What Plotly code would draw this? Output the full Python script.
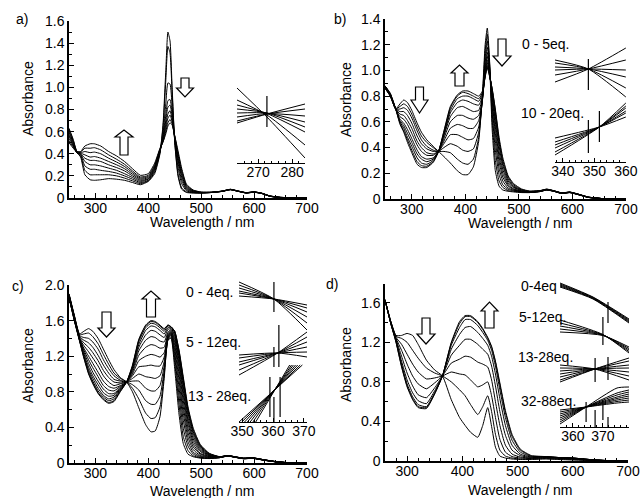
import plotly.graph_objects as go

W, H = 642, 498
FONT = "Liberation Sans, Arial, Helvetica, sans-serif"

# ---------------- DATA ----------------
# Panel a: absorbance rows, one row per wavelength, columns = successive titration spectra
wl_a = [250, 258, 265, 272, 280, 290, 298, 310, 325, 340, 355, 370, 385, 400, 412, 422, 428, 433, 437, 441,
        445, 450, 456, 463, 472, 485, 500, 520, 540, 555, 570, 585, 600, 615, 630, 650, 700]
abs_a = [
    [0.50, 0.52, 0.54, 0.56, 0.57, 0.59, 0.60, 0.62, 0.63],
    [0.45, 0.46, 0.47, 0.48, 0.49, 0.50, 0.51, 0.52, 0.53],
    [0.41, 0.41, 0.41, 0.41, 0.41, 0.41, 0.42, 0.42, 0.42],
    [0.37, 0.38, 0.39, 0.395, 0.40, 0.405, 0.41, 0.415, 0.42],
    [0.21, 0.25, 0.29, 0.33, 0.36, 0.39, 0.42, 0.45, 0.47],
    [0.165, 0.21, 0.26, 0.30, 0.34, 0.37, 0.41, 0.45, 0.49],
    [0.16, 0.21, 0.26, 0.30, 0.34, 0.375, 0.415, 0.455, 0.49],
    [0.165, 0.21, 0.25, 0.29, 0.33, 0.36, 0.40, 0.435, 0.47],
    [0.175, 0.21, 0.24, 0.27, 0.30, 0.33, 0.36, 0.39, 0.42],
    [0.17, 0.20, 0.225, 0.25, 0.275, 0.30, 0.325, 0.35, 0.38],
    [0.16, 0.18, 0.20, 0.22, 0.245, 0.265, 0.285, 0.305, 0.33],
    [0.14, 0.155, 0.17, 0.185, 0.20, 0.215, 0.23, 0.245, 0.265],
    [0.12, 0.13, 0.14, 0.15, 0.16, 0.17, 0.18, 0.19, 0.205],
    [0.15, 0.155, 0.16, 0.17, 0.175, 0.185, 0.195, 0.205, 0.22],
    [0.22, 0.235, 0.25, 0.26, 0.27, 0.28, 0.29, 0.30, 0.315],
    [0.40, 0.41, 0.42, 0.42, 0.43, 0.43, 0.44, 0.44, 0.45],
    [0.68, 0.65, 0.59, 0.56, 0.54, 0.53, 0.52, 0.51, 0.51],
    [1.15, 1.06, 0.85, 0.75, 0.70, 0.66, 0.63, 0.60, 0.58],
    [1.50, 1.37, 1.04, 0.88, 0.82, 0.76, 0.72, 0.68, 0.65],
    [1.42, 1.31, 1.03, 0.89, 0.84, 0.79, 0.75, 0.71, 0.68],
    [1.00, 0.95, 0.83, 0.77, 0.74, 0.71, 0.69, 0.67, 0.66],
    [0.50, 0.50, 0.52, 0.53, 0.54, 0.55, 0.55, 0.56, 0.56],
    [0.20, 0.22, 0.28, 0.32, 0.35, 0.37, 0.39, 0.41, 0.43],
    [0.08, 0.09, 0.13, 0.16, 0.19, 0.21, 0.23, 0.25, 0.27],
    [0.05, 0.055, 0.065, 0.075, 0.085, 0.095, 0.105, 0.115, 0.125],
    [0.045, 0.047, 0.05, 0.053, 0.056, 0.06, 0.064, 0.068, 0.072],
    [0.045, 0.045, 0.046, 0.047, 0.048, 0.05, 0.051, 0.052, 0.054],
    [0.05, 0.05, 0.05, 0.05, 0.051, 0.051, 0.052, 0.052, 0.053],
    [0.06, 0.06, 0.06, 0.061, 0.061, 0.062, 0.062, 0.063, 0.063],
    [0.075, 0.075, 0.076, 0.076, 0.077, 0.077, 0.078, 0.078, 0.079],
    [0.06, 0.06, 0.06, 0.061, 0.061, 0.062, 0.062, 0.063, 0.063],
    [0.045, 0.045, 0.046, 0.046, 0.047, 0.047, 0.048, 0.048, 0.049],
    [0.052, 0.052, 0.053, 0.053, 0.054, 0.054, 0.055, 0.055, 0.056],
    [0.04, 0.04, 0.04, 0.041, 0.041, 0.042, 0.042, 0.043, 0.043],
    [0.015, 0.015, 0.016, 0.016, 0.017, 0.017, 0.018, 0.018, 0.019],
    [0.004, 0.004, 0.004, 0.005, 0.005, 0.005, 0.006, 0.006, 0.006],
    [0, 0, 0, 0, 0, 0, 0, 0, 0],
]

wl_b = [250, 260, 270, 278, 285, 292, 300, 310, 318, 328, 340, 350, 360, 372, 385, 395, 405, 415, 425, 432,
        437, 441, 445, 450, 456, 463, 470, 480, 490, 505, 520, 540, 552, 565, 580, 595, 610, 630, 660, 700]
abs_b = [
    [0.86, 0.86, 0.87, 0.87, 0.87, 0.87, 0.88, 0.88, 0.88, 0.88, 0.88],
    [0.80, 0.80, 0.80, 0.80, 0.81, 0.81, 0.81, 0.81, 0.81, 0.82, 0.82],
    [0.70, 0.70, 0.70, 0.70, 0.70, 0.70, 0.70, 0.70, 0.70, 0.70, 0.70],
    [0.74, 0.72, 0.70, 0.68, 0.66, 0.64, 0.62, 0.61, 0.60, 0.59, 0.58],
    [0.77, 0.74, 0.71, 0.68, 0.65, 0.62, 0.59, 0.57, 0.55, 0.53, 0.52],
    [0.75, 0.72, 0.69, 0.65, 0.61, 0.58, 0.54, 0.51, 0.48, 0.46, 0.44],
    [0.69, 0.66, 0.63, 0.59, 0.55, 0.51, 0.47, 0.44, 0.41, 0.38, 0.36],
    [0.59, 0.56, 0.53, 0.49, 0.45, 0.42, 0.38, 0.35, 0.32, 0.29, 0.27],
    [0.52, 0.49, 0.46, 0.43, 0.40, 0.37, 0.33, 0.31, 0.28, 0.26, 0.245],
    [0.46, 0.44, 0.41, 0.39, 0.36, 0.34, 0.31, 0.29, 0.27, 0.255, 0.245],
    [0.41, 0.40, 0.38, 0.37, 0.35, 0.34, 0.32, 0.31, 0.30, 0.29, 0.285],
    [0.37, 0.37, 0.37, 0.37, 0.37, 0.37, 0.37, 0.37, 0.37, 0.37, 0.37],
    [0.33, 0.37, 0.40, 0.43, 0.45, 0.47, 0.49, 0.50, 0.51, 0.52, 0.53],
    [0.28, 0.36, 0.43, 0.50, 0.55, 0.60, 0.64, 0.67, 0.69, 0.71, 0.72],
    [0.22, 0.31, 0.41, 0.50, 0.58, 0.65, 0.71, 0.75, 0.78, 0.80, 0.81],
    [0.19, 0.28, 0.38, 0.48, 0.57, 0.65, 0.72, 0.77, 0.80, 0.83, 0.84],
    [0.19, 0.27, 0.37, 0.46, 0.55, 0.63, 0.70, 0.76, 0.80, 0.82, 0.84],
    [0.25, 0.31, 0.39, 0.47, 0.55, 0.62, 0.68, 0.74, 0.78, 0.80, 0.82],
    [0.45, 0.48, 0.52, 0.56, 0.61, 0.65, 0.69, 0.73, 0.76, 0.78, 0.80],
    [0.82, 0.80, 0.78, 0.77, 0.77, 0.78, 0.79, 0.80, 0.82, 0.83, 0.84],
    [1.20, 1.15, 1.10, 1.06, 1.02, 1.00, 0.98, 0.97, 0.96, 0.95, 0.95],
    [1.33, 1.28, 1.23, 1.18, 1.14, 1.11, 1.08, 1.06, 1.04, 1.03, 1.02],
    [1.10, 1.08, 1.06, 1.04, 1.02, 1.00, 0.99, 0.98, 0.97, 0.96, 0.96],
    [0.55, 0.62, 0.68, 0.73, 0.77, 0.80, 0.82, 0.84, 0.85, 0.86, 0.86],
    [0.22, 0.30, 0.38, 0.45, 0.51, 0.56, 0.60, 0.64, 0.67, 0.69, 0.70],
    [0.10, 0.14, 0.19, 0.24, 0.29, 0.33, 0.37, 0.41, 0.44, 0.46, 0.48],
    [0.07, 0.09, 0.11, 0.14, 0.17, 0.20, 0.23, 0.26, 0.28, 0.30, 0.32],
    [0.06, 0.065, 0.075, 0.085, 0.10, 0.11, 0.125, 0.14, 0.155, 0.17, 0.18],
    [0.055, 0.06, 0.065, 0.07, 0.075, 0.08, 0.09, 0.095, 0.10, 0.11, 0.12],
    [0.05, 0.052, 0.054, 0.056, 0.058, 0.06, 0.063, 0.066, 0.07, 0.074, 0.078],
    [0.05, 0.05, 0.051, 0.052, 0.053, 0.054, 0.055, 0.056, 0.058, 0.06, 0.062],
    [0.058, 0.058, 0.059, 0.06, 0.06, 0.061, 0.062, 0.063, 0.064, 0.065, 0.066],
    [0.07, 0.07, 0.071, 0.072, 0.072, 0.073, 0.074, 0.074, 0.075, 0.076, 0.077],
    [0.06, 0.06, 0.061, 0.061, 0.062, 0.062, 0.063, 0.063, 0.064, 0.064, 0.065],
    [0.043, 0.043, 0.044, 0.044, 0.045, 0.045, 0.046, 0.046, 0.047, 0.047, 0.048],
    [0.05, 0.05, 0.05, 0.051, 0.051, 0.052, 0.052, 0.053, 0.053, 0.054, 0.054],
    [0.035, 0.035, 0.035, 0.036, 0.036, 0.037, 0.037, 0.038, 0.038, 0.039, 0.039],
    [0.012, 0.012, 0.012, 0.013, 0.013, 0.013, 0.014, 0.014, 0.014, 0.015, 0.015],
    [0.002, 0.002, 0.002, 0.002, 0.002, 0.002, 0.002, 0.002, 0.002, 0.002, 0.002],
    [0, 0, 0, 0, 0, 0, 0, 0, 0, 0, 0],
]

wl_c = [250, 260, 270, 278, 287, 295, 305, 315, 325, 335, 347, 359, 370, 382, 395, 405, 413, 422, 430, 437,
        443, 450, 458, 466, 475, 485, 498, 515, 535, 550, 565, 580, 598, 620, 645, 670, 700]
abs_c = [
    [1.90, 1.90, 1.89, 1.89, 1.89, 1.88, 1.88, 1.88, 1.87, 1.87, 1.87, 1.86, 1.86, 1.86],
    [1.66, 1.66, 1.65, 1.65, 1.64, 1.64, 1.63, 1.63, 1.62, 1.62, 1.61, 1.61, 1.60, 1.60],
    [1.45, 1.44, 1.43, 1.42, 1.41, 1.40, 1.40, 1.39, 1.39, 1.38, 1.38, 1.38, 1.37, 1.37],
    [1.48, 1.45, 1.41, 1.38, 1.35, 1.32, 1.29, 1.27, 1.25, 1.23, 1.21, 1.20, 1.19, 1.18],
    [1.51, 1.46, 1.40, 1.35, 1.30, 1.25, 1.20, 1.16, 1.12, 1.08, 1.05, 1.03, 1.01, 1.00],
    [1.48, 1.42, 1.36, 1.30, 1.24, 1.18, 1.12, 1.07, 1.02, 0.98, 0.95, 0.92, 0.90, 0.89],
    [1.40, 1.34, 1.28, 1.21, 1.15, 1.09, 1.02, 0.97, 0.92, 0.88, 0.84, 0.81, 0.79, 0.78],
    [1.28, 1.22, 1.16, 1.10, 1.04, 0.98, 0.92, 0.87, 0.83, 0.79, 0.76, 0.74, 0.72, 0.71],
    [1.16, 1.11, 1.06, 1.01, 0.96, 0.91, 0.86, 0.82, 0.78, 0.75, 0.72, 0.70, 0.68, 0.67],
    [1.05, 1.01, 0.98, 0.94, 0.91, 0.87, 0.84, 0.81, 0.78, 0.76, 0.74, 0.72, 0.70, 0.69],
    [0.96, 0.95, 0.93, 0.92, 0.90, 0.89, 0.87, 0.86, 0.85, 0.84, 0.83, 0.82, 0.81, 0.80],
    [0.91, 0.91, 0.91, 0.91, 0.91, 0.91, 0.91, 0.91, 0.91, 0.91, 0.91, 0.91, 0.91, 0.91],
    [0.80, 0.84, 0.88, 0.92, 0.95, 0.98, 1.00, 1.02, 1.04, 1.06, 1.07, 1.08, 1.09, 1.10],
    [0.62, 0.72, 0.82, 0.92, 1.00, 1.08, 1.15, 1.21, 1.26, 1.30, 1.33, 1.36, 1.38, 1.39],
    [0.43, 0.56, 0.70, 0.84, 0.97, 1.09, 1.20, 1.30, 1.38, 1.44, 1.49, 1.52, 1.54, 1.55],
    [0.35, 0.50, 0.66, 0.81, 0.96, 1.10, 1.22, 1.33, 1.42, 1.49, 1.54, 1.57, 1.59, 1.60],
    [0.36, 0.51, 0.66, 0.81, 0.95, 1.09, 1.21, 1.32, 1.41, 1.48, 1.53, 1.56, 1.58, 1.59],
    [0.52, 0.63, 0.75, 0.87, 0.98, 1.09, 1.19, 1.29, 1.37, 1.44, 1.49, 1.52, 1.54, 1.55],
    [0.95, 0.99, 1.04, 1.09, 1.14, 1.19, 1.24, 1.30, 1.36, 1.41, 1.45, 1.48, 1.50, 1.51],
    [1.38, 1.38, 1.39, 1.40, 1.41, 1.42, 1.43, 1.45, 1.47, 1.50, 1.52, 1.54, 1.55, 1.55],
    [1.40, 1.42, 1.44, 1.45, 1.46, 1.47, 1.48, 1.49, 1.50, 1.51, 1.52, 1.53, 1.53, 1.53],
    [1.05, 1.12, 1.18, 1.23, 1.28, 1.32, 1.36, 1.39, 1.42, 1.44, 1.46, 1.47, 1.48, 1.48],
    [0.55, 0.66, 0.76, 0.85, 0.93, 1.00, 1.06, 1.11, 1.15, 1.19, 1.22, 1.24, 1.26, 1.27],
    [0.22, 0.30, 0.39, 0.48, 0.56, 0.63, 0.70, 0.76, 0.81, 0.86, 0.90, 0.93, 0.95, 0.97],
    [0.10, 0.14, 0.19, 0.24, 0.29, 0.34, 0.39, 0.44, 0.48, 0.52, 0.56, 0.59, 0.61, 0.63],
    [0.07, 0.08, 0.10, 0.12, 0.15, 0.18, 0.21, 0.24, 0.27, 0.30, 0.33, 0.35, 0.37, 0.39],
    [0.055, 0.06, 0.065, 0.075, 0.085, 0.10, 0.11, 0.13, 0.145, 0.16, 0.175, 0.19, 0.20, 0.21],
    [0.05, 0.05, 0.055, 0.06, 0.065, 0.07, 0.075, 0.08, 0.085, 0.09, 0.095, 0.10, 0.105, 0.11],
    [0.06, 0.06, 0.061, 0.062, 0.063, 0.064, 0.065, 0.066, 0.067, 0.068, 0.069, 0.07, 0.07, 0.071],
    [0.078, 0.078, 0.079, 0.079, 0.08, 0.08, 0.081, 0.081, 0.082, 0.082, 0.083, 0.083, 0.084, 0.084],
    [0.063, 0.063, 0.064, 0.064, 0.065, 0.065, 0.066, 0.066, 0.067, 0.067, 0.068, 0.068, 0.069, 0.069],
    [0.048, 0.048, 0.049, 0.049, 0.05, 0.05, 0.051, 0.051, 0.052, 0.052, 0.053, 0.053, 0.054, 0.054],
    [0.052, 0.052, 0.053, 0.053, 0.054, 0.054, 0.055, 0.055, 0.056, 0.056, 0.057, 0.057, 0.058, 0.058],
    [0.03, 0.03, 0.03, 0.031, 0.031, 0.032, 0.032, 0.033, 0.033, 0.034, 0.034, 0.035, 0.035, 0.035],
    [0.01, 0.01, 0.01, 0.01, 0.011, 0.011, 0.011, 0.011, 0.012, 0.012, 0.012, 0.012, 0.013, 0.013],
    [0.002, 0.002, 0.002, 0.002, 0.002, 0.002, 0.002, 0.002, 0.002, 0.002, 0.002, 0.002, 0.002, 0.002],
    [0, 0, 0, 0, 0, 0, 0, 0, 0, 0, 0, 0, 0, 0],
]

wl_d = [260, 270, 280, 290, 300, 310, 320, 335, 350, 364, 380, 395, 405, 415, 428, 437, 446, 453, 460, 468,
        478, 490, 505, 525, 550, 575, 600, 630, 660, 700]
abs_d = [
    [1.63, 1.63, 1.63, 1.63, 1.63, 1.63, 1.63, 1.63, 1.63],
    [1.42, 1.42, 1.42, 1.41, 1.41, 1.40, 1.40, 1.40, 1.40],
    [1.27, 1.26, 1.25, 1.24, 1.23, 1.22, 1.21, 1.20, 1.20],
    [1.27, 1.24, 1.18, 1.12, 1.06, 1.01, 0.98, 0.96, 0.95],
    [1.29, 1.20, 1.08, 0.98, 0.89, 0.82, 0.78, 0.76, 0.75],
    [1.27, 1.12, 0.98, 0.86, 0.76, 0.69, 0.65, 0.63, 0.62],
    [1.18, 1.04, 0.90, 0.78, 0.67, 0.61, 0.57, 0.55, 0.54],
    [1.02, 0.94, 0.83, 0.73, 0.64, 0.58, 0.55, 0.54, 0.53],
    [0.92, 0.89, 0.84, 0.79, 0.74, 0.71, 0.69, 0.68, 0.68],
    [0.86, 0.86, 0.86, 0.86, 0.86, 0.86, 0.86, 0.86, 0.86],
    [0.62, 0.80, 0.90, 0.99, 1.07, 1.13, 1.17, 1.19, 1.20],
    [0.44, 0.72, 0.88, 1.03, 1.17, 1.28, 1.35, 1.39, 1.41],
    [0.36, 0.66, 0.87, 1.06, 1.23, 1.35, 1.43, 1.46, 1.47],
    [0.29, 0.57, 0.82, 1.05, 1.23, 1.36, 1.43, 1.46, 1.47],
    [0.24, 0.47, 0.75, 1.00, 1.18, 1.30, 1.37, 1.40, 1.41],
    [0.36, 0.55, 0.77, 0.98, 1.13, 1.24, 1.30, 1.33, 1.34],
    [0.54, 0.66, 0.80, 0.95, 1.08, 1.17, 1.22, 1.24, 1.25],
    [0.35, 0.50, 0.66, 0.82, 0.96, 1.06, 1.12, 1.15, 1.16],
    [0.14, 0.27, 0.44, 0.60, 0.76, 0.88, 0.96, 1.00, 1.01],
    [0.05, 0.11, 0.22, 0.36, 0.50, 0.63, 0.72, 0.77, 0.79],
    [0.03, 0.05, 0.09, 0.16, 0.26, 0.36, 0.44, 0.49, 0.51],
    [0.02, 0.03, 0.045, 0.07, 0.11, 0.16, 0.21, 0.25, 0.27],
    [0.015, 0.02, 0.03, 0.04, 0.055, 0.07, 0.09, 0.11, 0.12],
    [0.015, 0.02, 0.025, 0.03, 0.035, 0.04, 0.045, 0.05, 0.055],
    [0.02, 0.025, 0.03, 0.035, 0.04, 0.04, 0.045, 0.045, 0.045],
    [0.015, 0.02, 0.025, 0.03, 0.03, 0.035, 0.035, 0.035, 0.035],
    [0.01, 0.015, 0.02, 0.025, 0.025, 0.03, 0.03, 0.03, 0.03],
    [0.005, 0.008, 0.01, 0.012, 0.015, 0.015, 0.015, 0.015, 0.015],
    [0.0, 0.002, 0.003, 0.004, 0.005, 0.005, 0.005, 0.005, 0.005],
    [0, 0, 0, 0, 0, 0, 0, 0, 0],
]

# Insets (magnified, vertically offset absorbance units)
inset_a_x = [263.8, 272.6, 283.8]
inset_a_lines = [
    [0.75, 0.46, 0.05], [0.63, 0.48, 0.18], [0.58, 0.495, 0.31], [0.54, 0.50, 0.36],
    [0.50, 0.50, 0.41], [0.46, 0.495, 0.47], [0.42, 0.49, 0.54], [0.40, 0.49, 0.59],
]
inset_a_marks = [(272.6, 0.67, 0.36)]

inset_b_x1 = [337.5, 348.1, 360.0]
inset_b_lines1 = [
    [1.02, 0.93, 0.65], [0.99, 0.93, 0.74], [0.95, 0.93, 0.85],
    [0.92, 0.93, 0.92], [0.87, 0.93, 1.02], [0.80, 0.93, 1.14],
]
inset_b_x2 = [337.5, 351.6, 360.0]
inset_b_lines2 = [
    [0.24, 0.35, 0.45], [0.20, 0.35, 0.49], [0.17, 0.35, 0.51],
    [0.14, 0.35, 0.54], [0.10, 0.35, 0.56], [0.07, 0.35, 0.59],
]
inset_b_marks = [(348.1, 1.03, 0.72), (348.1, 0.42, 0.09), (351.6, 0.51, 0.20)]

inset_c_x1 = [349.0, 360.3, 371.0]
inset_c_lines1 = [
    [1.40, 1.23, 0.92], [1.37, 1.23, 0.99], [1.34, 1.23, 1.05],
    [1.31, 1.23, 1.10], [1.29, 1.23, 1.14], [1.26, 1.23, 1.17],
]
inset_c_x2 = [349.0, 361.5, 371.0]
inset_c_lines2 = [
    [0.67, 0.69, 0.65], [0.64, 0.69, 0.70], [0.60, 0.69, 0.75],
    [0.57, 0.69, 0.80], [0.52, 0.69, 0.85], [0.47, 0.69, 0.90],
]
inset_c_start3 = [349.0, 349.9, 350.8, 351.7, 352.6, 353.5, 354.4]
inset_c_end3 = [369.5, 368.8, 368.0, 367.3, 366.6, 366.0, 365.4]
inset_c_y3 = [0.0, 0.57]
inset_c_marks = [(360.3, 1.40, 1.10), (361.9, 0.97, 0.55), (360.3, 0.75, 0.55),
                 (359.0, 0.45, 0.05), (360.3, 0.25, 0.0), (362.3, 0.45, 0.05)]

inset_d_x1 = [355.7, 366.7, 378.7]
inset_d_lines1 = [[1.44, 1.30, 1.08], [1.43, 1.295, 1.07], [1.42, 1.29, 1.06], [1.41, 1.285, 1.05], [1.40, 1.28, 1.04]]
inset_d_x2 = [355.7, 370.0, 378.7]
inset_d_lines2 = [[1.07, 0.925, 0.74], [1.04, 0.922, 0.755], [1.01, 0.92, 0.77], [0.98, 0.918, 0.785], [0.95, 0.915, 0.80]]
inset_d_x3 = [355.7, 367.3, 378.7]
inset_d_lines3 = [
    [0.62, 0.58, 0.47], [0.59, 0.58, 0.51], [0.56, 0.58, 0.55], [0.53, 0.58, 0.59],
    [0.50, 0.58, 0.62], [0.47, 0.58, 0.66], [0.45, 0.58, 0.69],
]
inset_d_x4 = [355.7, 364.4, 374.7, 378.7]
inset_d_lines4 = [
    [0.17, 0.20, 0.24, 0.25], [0.15, 0.20, 0.255, 0.27], [0.13, 0.20, 0.27, 0.29], [0.11, 0.20, 0.285, 0.31],
    [0.09, 0.20, 0.30, 0.33], [0.07, 0.20, 0.32, 0.35], [0.05, 0.20, 0.34, 0.37], [0.03, 0.20, 0.39, 0.40],
]
inset_d_marks = [(371.7, 1.25, 1.04), (370.0, 1.10, 0.82), (367.4, 0.69, 0.45), (371.7, 0.70, 0.47),
                 (364.4, 0.25, 0.05), (367.4, 0.17, 0.0), (370.0, 0.27, 0.07), (371.7, 0.10, 0.0)]

x_ticks = [300, 400, 500, 600, 700]
y_ticks_a = [0, 0.2, 0.4, 0.6, 0.8, 1.0, 1.2, 1.4, 1.6]
y_text_a = ["0", "0.2", "0.4", "0.6", "0.8", "1.0", "1.2", "1.4", "1.6"]
y_ticks_b = [0, 0.2, 0.4, 0.6, 0.8, 1.0, 1.2, 1.4]
y_text_b = ["0", "0.2", "0.4", "0.6", "0.8", "1.0", "1.2", "1.4"]
y_ticks_c = [0, 0.4, 0.8, 1.2, 1.6, 2.0]
y_text_c = ["0", "0.4", "0.8", "1.2", "1.6", "2.0"]
y_ticks_d = [0, 0.4, 0.8, 1.2, 1.6]
y_text_d = ["0", "0.4", "0.8", "1.2", "1.6"]

# ---------------- FIGURE ----------------
def PX(p):
    return p / W


def PY(p):
    return 1 - p / H


fig = go.Figure()
LINE = dict(color="black", width=1, shape="spline", smoothing=0.5)


def add_family(wl, rows, ax):
    n = len(rows[0])
    for i in range(n):
        fig.add_trace(go.Scatter(x=wl, y=[r[i] for r in rows], mode="lines", line=LINE,
                                 xaxis="x" + ax, yaxis="y" + ax, hoverinfo="skip"))


add_family(wl_a, abs_a, "")
add_family(wl_b, abs_b, "2")
add_family(wl_c, abs_c, "3")
add_family(wl_d, abs_d, "4")


def add_lines(xs, lines, ax):
    for ln in lines:
        fig.add_trace(go.Scatter(x=xs, y=ln, mode="lines",
                                 line=dict(color="black", width=1, shape="spline", smoothing=0.6),
                                 xaxis="x" + ax, yaxis="y" + ax, hoverinfo="skip"))


def add_marks(marks, ax):
    for (x, y1, y0) in marks:
        fig.add_trace(go.Scatter(x=[x, x], y=[y1, y0], mode="lines", line=dict(color="black", width=1.2),
                                 xaxis="x" + ax, yaxis="y" + ax, hoverinfo="skip"))


add_lines(inset_a_x, inset_a_lines, "5")
add_marks(inset_a_marks, "5")
add_lines(inset_b_x1, inset_b_lines1, "6")
add_lines(inset_b_x2, inset_b_lines2, "6")
add_marks(inset_b_marks, "6")
add_lines(inset_c_x1, inset_c_lines1, "7")
add_lines(inset_c_x2, inset_c_lines2, "7")
for xs0, xs1 in zip(inset_c_start3, inset_c_end3):
    add_lines([xs0, xs1], [inset_c_y3], "7")
add_marks(inset_c_marks, "7")
add_lines(inset_d_x1, inset_d_lines1, "8")
add_lines(inset_d_x2, inset_d_lines2, "8")
add_lines(inset_d_x3, inset_d_lines3, "8")
add_lines(inset_d_x4, inset_d_lines4, "8")
add_marks(inset_d_marks, "8")

TF = dict(family=FONT, size=14, color="black")


def main_x(dom, rng, anchor):
    return dict(domain=[PX(dom[0]), PX(dom[1])], range=rng, anchor=anchor, showline=True, linecolor="black",
                linewidth=1.5, ticks="inside", ticklen=5, tickwidth=1, tickcolor="black", automargin=False,
                ticklabelstandoff=-4,
                tickvals=x_ticks, ticktext=[str(v) for v in x_ticks], tickfont=TF, showgrid=False,
                zeroline=False, minor=dict(dtick=20, ticks="inside", ticklen=3, tickcolor="black", showgrid=False))


def main_y(dom, rng, anchor, vals, text, mdt):
    return dict(domain=[PY(dom[1]), PY(dom[0])], range=rng, anchor=anchor, showline=True, linecolor="black",
                linewidth=1.5, ticks="inside", ticklen=5, tickwidth=1, tickcolor="black", automargin=False,
                tickvals=vals, ticktext=text, tickfont=TF, showgrid=False, zeroline=False,
                minor=dict(dtick=mdt, ticks="inside", ticklen=3, tickcolor="black", showgrid=False))


def inset_x(dom, rng, anchor, vals):
    return dict(domain=[PX(dom[0]), PX(dom[1])], range=rng, anchor=anchor, showline=True, linecolor="black",
                linewidth=1, ticks="inside", ticklen=4, tickwidth=1, tickcolor="black", automargin=False,
                ticklabelstandoff=-4,
                tickvals=vals, ticktext=[str(v) for v in vals], tickfont=TF, showgrid=False, zeroline=False,
                minor=dict(dtick=2, ticks="inside", ticklen=2.5, tickcolor="black", showgrid=False))


def inset_y(dom, rng, anchor):
    return dict(domain=[PY(dom[1]), PY(dom[0])], range=rng, anchor=anchor, visible=False, showgrid=False,
                zeroline=False, automargin=False)


fig.update_layout(
    width=W, height=H, margin=dict(l=0, r=0, t=0, b=0, autoexpand=False), showlegend=False,
    paper_bgcolor="white", plot_bgcolor="rgba(0,0,0,0)", font=TF,
    xaxis=main_x((69, 307), [250, 700], "y"),
    yaxis=main_y((21, 198), [0, 1.6], "x", y_ticks_a, y_text_a, 0.1),
    xaxis2=main_x((385, 626), [250, 700], "y2"),
    yaxis2=main_y((19, 199), [0, 1.4], "x2", y_ticks_b, y_text_b, 0.1),
    xaxis3=main_x((69, 307), [250, 700], "y3"),
    yaxis3=main_y((285, 463), [0, 2.0], "x3", y_ticks_c, y_text_c, 0.2),
    xaxis4=main_x((385, 628), [260, 700], "y4"),
    yaxis4=main_y((284, 461), [0, 1.79], "x4", y_ticks_d, y_text_d, 0.2),
    xaxis5=inset_x((237, 305), [263.8, 283.8], "y5", [270, 280]),
    yaxis5=inset_y((85, 163), [0, 0.78], "x5"),
    xaxis6=inset_x((555, 626), [337.5, 360.05], "y6", [340, 350, 360]),
    yaxis6=inset_y((37, 162), [0, 1.25], "x6"),
    xaxis7=inset_x((239, 307), [349, 371], "y7", [350, 360, 370]),
    yaxis7=inset_y((278, 422), [0, 1.44], "x7"),
    xaxis8=inset_x((560, 629), [355.7, 378.7], "y8", [360, 370]),
    yaxis8=inset_y((280, 427), [0, 1.47], "x8"),
)

ann = []


def text(x, y, s, anchor="center", angle=0, size=14):
    ann.append(dict(x=PX(x), y=PY(y), xref="paper", yref="paper", text=s, showarrow=False, xanchor=anchor,
                    yanchor="middle", textangle=angle, font=dict(family=FONT, size=size, color="black")))


text(22, 19, "a)")
text(340, 19, "b)")
text(18, 286, "c)")
text(332, 284, "d)")
text(28, 99, "Absorbance", angle=-90)
text(346, 99, "Absorbance", angle=-90)
text(28, 366, "Absorbance", angle=-90)
text(346, 364, "Absorbance", angle=-90)
text(202, 222, "Wavelength / nm")
text(520, 223, "Wavelength / nm")
text(202, 491, "Wavelength / nm")
text(520, 490, "Wavelength / nm")
text(520, 44, "0 - 5eq.", "left")
text(519, 113, "10 - 20eq.", "left")
text(184, 292, "0 - 4eq.", "left")
text(184, 342, "5 - 12eq.", "left")
text(186, 396, "13 - 28eq.", "left")
text(519, 286, "0-4eq", "left")
text(517, 317, "5-12eq.", "left")
text(516, 357, "13-28eq.", "left")
text(519, 401, "32-88eq.", "left")
fig.update_layout(annotations=ann)


def arrow(cx, tail, tip, shaft_w, head_w, head_len):
    d = 1 if tip > tail else -1
    base = tip - d * head_len
    pts = [(cx - shaft_w / 2, tail), (cx + shaft_w / 2, tail), (cx + shaft_w / 2, base), (cx + head_w / 2, base),
           (cx, tip), (cx - head_w / 2, base), (cx - shaft_w / 2, base)]
    path = "M " + " L ".join(f"{PX(x):.5f},{PY(y):.5f}" for x, y in pts) + " Z"
    return dict(type="path", path=path, xref="paper", yref="paper", fillcolor="white",
                line=dict(color="black", width=1.2), layer="above")


shapes = [
    arrow(124, 155, 130, 8, 18, 7),
    arrow(185, 78, 97, 8, 17, 9),
    arrow(419.5, 87, 113, 8, 17, 13),
    arrow(459.5, 86, 65, 9, 17, 8),
    arrow(502, 39, 66, 8, 18, 10),
    arrow(106.5, 312, 337, 9, 17, 9),
    arrow(151, 317, 291, 9, 18, 8),
    arrow(426, 318, 344, 8, 18, 10),
    arrow(489.5, 328, 302, 9, 17, 9),
]
fig.update_layout(shapes=shapes)

fig.write_html("out.html", config={"displayModeBar": False},
               post_script="document.body.style.margin='0';document.body.style.overflow='hidden';")
